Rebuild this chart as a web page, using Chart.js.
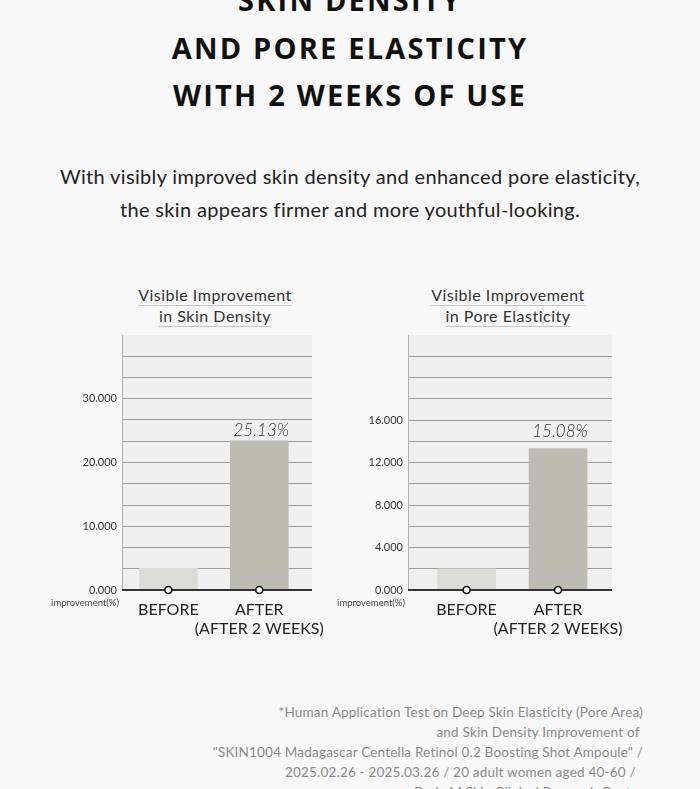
<!DOCTYPE html>
<html>
<head>
<meta charset="utf-8">
<script src="https://cdn.jsdelivr.net/npm/chart.js@4.4.0/dist/chart.umd.min.js"></script>
<style>
body { margin: 0; background: #f8f8f8; font-family: Lato, sans-serif; }
#page { position: relative; width: 700px; height: 789px; overflow: hidden; }
.title { position: absolute; left: 0; width: 700px; top: -24px; text-align: center; font-family: "Open Sans", sans-serif; font-weight: 700; font-size: 29px; line-height: 47.5px; color: #111; letter-spacing: 2.2px; }
.sub { position: absolute; left: 0; width: 700px; top: 160px; text-align: center; font-size: 20px; line-height: 33px; color: #222; letter-spacing: 0.35px; }
.ctitle { position: absolute; width: 240px; top: 284px; text-align: center; font-size: 16px; line-height: 21px; color: #333; letter-spacing: 0.5px; }
.ctitle span { text-decoration: underline; text-decoration-color: #c4c4c4; text-decoration-thickness: 1px; text-underline-offset: 4px; }
canvas { position: absolute; }
.note { position: absolute; right: 57px; top: 702px; text-align: right; font-size: 13.5px; line-height: 20px; color: #8a8a8a; white-space: pre; letter-spacing: 0.2px; }
</style>
</head>
<body>
<div id="page">
  <div class="title">SKIN DENSITY<br>AND PORE ELASTICITY<br>WITH 2 WEEKS OF USE</div>
  <div class="sub">With visibly improved skin density and enhanced pore elasticity,<br>the skin appears firmer and more youthful-looking.</div>
  <div class="ctitle" style="left:95px"><span>Visible Improvement</span><br><span>in Skin Density</span></div>
  <div class="ctitle" style="left:388px"><span>Visible Improvement</span><br><span>in Pore Elasticity</span></div>
  <canvas id="densityChart" width="300" height="330" style="left:30px;top:320px"></canvas>
  <canvas id="poreChart" width="320" height="330" style="left:320px;top:320px"></canvas>
  <div class="note">*Human Application Test on Deep Skin Elasticity (Pore Area)
and Skin Density Improvement of 
"SKIN1004 Madagascar Centella Retinol 0.2 Boosting Shot Ampoule" /
2025.02.26 - 2025.03.26 / 20 adult women aged 40-60 /  
Body M Skin Clinical Research Center</div>
</div>
<script>
// data
var categories = ['BEFORE', ['AFTER', '(AFTER 2 WEEKS)']];
var densityValues = [3.4, 23.4];
var poreValues = [2.0, 13.3];
var densityPct = '25.13%';
var porePct = '15.08%';
var densityTickValues = [0, 10, 20, 30];
var poreTickValues = [0, 4, 8, 12, 16];
var axisNote = 'improvement(%)';

var panelPlugin = {
    id: 'panel',
    beforeDraw: function (chart) {
        var a = chart.chartArea;
        var c = chart.ctx;
        c.save();
        c.fillStyle = '#efefef';
        c.fillRect(a.left, a.top, a.right - a.left, a.bottom - a.top);
        c.restore();
    },
    afterDatasetDraw: function (chart, args, opts) {
        if (args.meta.type !== 'bar') return;
        var a = chart.chartArea;
        var c = chart.ctx;
        var y0 = chart.scales.y.getPixelForValue(0);
        c.save();
        c.strokeStyle = '#333';
        c.lineWidth = 2;
        c.beginPath();
        c.moveTo(a.left, y0);
        c.lineTo(a.right, y0);
        c.stroke();
        // value over the AFTER bar
        var bar = args.meta.data[1];
        c.fillStyle = '#333';
        c.font = 'italic 300 17px Lato';
        c.textAlign = 'center';
        c.textBaseline = 'bottom';
        c.fillText(opts.text, bar.x + 2, bar.y - opts.gap);
        // small axis note
        c.font = '9.5px Lato';
        c.fillStyle = '#444';
        c.textAlign = 'right';
        c.textBaseline = 'middle';
        c.fillText(axisNote, a.left - 3, y0 + 13);
        c.restore();
    }
};

function makeChart(id, values, pct, gap, tickValues, yMax, yStep, xMin, xMax, padLeft, padRight) {
    new Chart(document.getElementById(id), {
        type: 'bar',
        data: {
            datasets: [
                {
                    type: 'bar',
                    order: 1,
                    data: values.map(function (v, i) { return { x: i, y: v }; }),
                    backgroundColor: ['#dbdbd7', '#bdbcb2'],
                    barThickness: 58
                },
                {
                    type: 'line',
                    order: 0,
                    clip: false,
                    showLine: false,
                    data: values.map(function (v, i) { return { x: i, y: 0 }; }),
                    pointRadius: 3.5,
                    pointBackgroundColor: '#fff',
                    pointBorderColor: '#111',
                    pointBorderWidth: 1.6
                }
            ]
        },
        options: {
            responsive: false,
            animation: false,
            devicePixelRatio: 1,
            layout: { padding: { left: padLeft, right: padRight, top: 15, bottom: 0 } },
            plugins: {
                legend: { display: false },
                tooltip: { enabled: false },
                panel: { text: pct, gap: gap }
            },
            scales: {
                x: {
                    type: 'linear',
                    offset: false,
                    min: xMin,
                    max: xMax,
                    afterBuildTicks: function (scale) {
                        scale.ticks = categories.map(function (c, i) { return { value: i }; });
                    },
                    afterFit: function (scale) {
                        scale.height = 60;
                        scale.paddingLeft = 0;
                        scale.paddingRight = 0;
                    },
                    grid: { display: false, drawTicks: false },
                    border: { display: false },
                    ticks: {
                        padding: 10,
                        color: '#222',
                        font: { family: 'Lato', size: 16 },
                        maxRotation: 0,
                        autoSkip: false,
                        callback: function (v) { return categories[Math.round(v)]; }
                    }
                },
                y: {
                    min: 0,
                    max: yMax,
                    afterFit: function (scale) {
                        scale.width = 62;
                        scale.paddingTop = 0;
                        scale.paddingBottom = 0;
                    },
                    border: { color: '#b0b0b0', width: 1 },
                    grid: {
                        drawTicks: false,
                        lineWidth: 1,
                        color: function (ctx) {
                            var v = ctx.tick.value;
                            if (v < 0.01 || v > yMax - 0.01) return 'rgba(0,0,0,0)';
                            return '#9c9c9c';
                        }
                    },
                    ticks: {
                        stepSize: yStep,
                        padding: 5,
                        color: '#333',
                        font: { family: 'Lato', size: 11 },
                        callback: function (v) {
                            for (var i = 0; i < tickValues.length; i++) {
                                if (Math.abs(v - tickValues[i]) < 0.01) return tickValues[i].toFixed(3);
                            }
                            return '';
                        }
                    }
                }
            }
        },
        plugins: [panelPlugin]
    });
}

makeChart('densityChart', densityValues, densityPct, 2, densityTickValues, 40, 10 / 3, -0.51, 1.58, 30, 18);
makeChart('poreChart', poreValues, porePct, 9, poreTickValues, 24, 2, -0.64, 1.59, 26, 28);
</script>
</body>
</html>
